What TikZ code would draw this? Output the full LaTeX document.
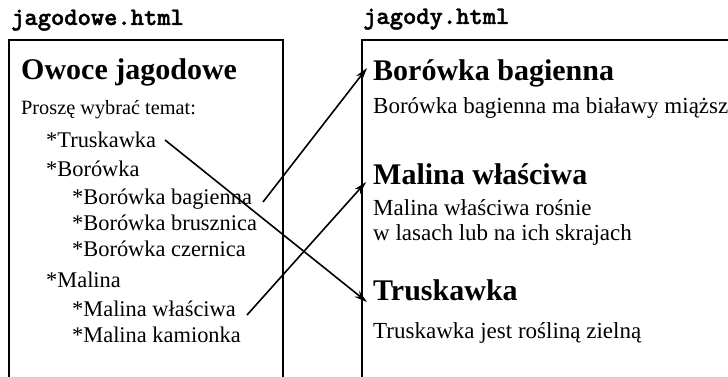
\documentclass[tikz,border=0pt]{standalone}
\usepackage{fontspec}
\setmainfont{Liberation Serif}
\newfontfamily\fnamefont{lmmonolt10-bold}[Extension=.otf,FakeBold=1.6]
\usetikzlibrary{arrows.meta}
\begin{document}
\begin{tikzpicture}[x=1pt,y=-1pt,
  item/.style={anchor=base west,inner sep=0pt,font=\fontsize{22.4}{26}\selectfont},
  txt/.style={anchor=base west,inner sep=0pt,font=\fontsize{23}{27}\selectfont},
  head/.style={anchor=base west,inner sep=0pt,font=\fontsize{30}{34}\selectfont\bfseries},
  fname/.style={anchor=base west,inner sep=0pt,font=\fontsize{25.3}{29}\fnamefont},
  frame/.style={line width=1.8pt},
  link/.style={line width=1.6pt,-{Stealth[length=13pt,width=7.5pt]}}]
\useasboundingbox (0,0) rectangle (728,377);

% file names
\node[fname] (f1) at (11,25) {jagodowe.html};
\node[fname] (f2) at (363,24) {jagody.html};

% page frames (open at the bottom and on the right)
\draw[frame] (9,380) -- (9,40) -- (283,40) -- (283,380);
\draw[frame] (362,380) -- (362,40) -- (730,40);

% menu page
\node[head] (t1) at (21,80) {Owoce jagodowe};
\node[anchor=base west,inner sep=0pt,font=\fontsize{20.3}{24}\selectfont] (p1) at (21,115) {Proszę wybrać temat:};
\node[item] (m1) at (46,147) {*Truskawka};
\node[item] (m2) at (46,176) {*Borówka};
\node[item] (m3) at (72,204) {*Borówka bagienna};
\node[item] (m4) at (72,230) {*Borówka brusznica};
\node[item] (m5) at (72,256) {*Borówka czernica};
\node[item] (m6) at (46,287) {*Malina};
\node[item] (m7) at (72,316) {*Malina właściwa};
\node[item] (m8) at (72,342) {*Malina kamionka};

% target page
\node[head] (h1) at (373,81) {Borówka bagienna};
\node[txt] (d1) at (373,114) {Borówka bagienna ma białawy miąższ};
\node[head] (h2) at (373,184) {Malina właściwa};
\node[txt] (d2) at (373,215) {Malina właściwa rośnie};
\node[txt] (d3) at (373,240) {w lasach lub na ich skrajach};
\node[head] (h3) at (373,300) {Truskawka};
\node[txt] (d4) at (373,338) {Truskawka jest rośliną zielną};

% link ends
\coordinate (s1) at (165,140);
\coordinate (e1) at (367,302);
\coordinate (s2) at (263,202);
\coordinate (e2) at (367,68);
\coordinate (s3) at (247,315);
\coordinate (e3) at (366,182);

\draw[link] (s1) -- (e1);
\draw[link] (s2) -- (e2);
\draw[link] (s3) -- (e3);
\end{tikzpicture}
\end{document}
